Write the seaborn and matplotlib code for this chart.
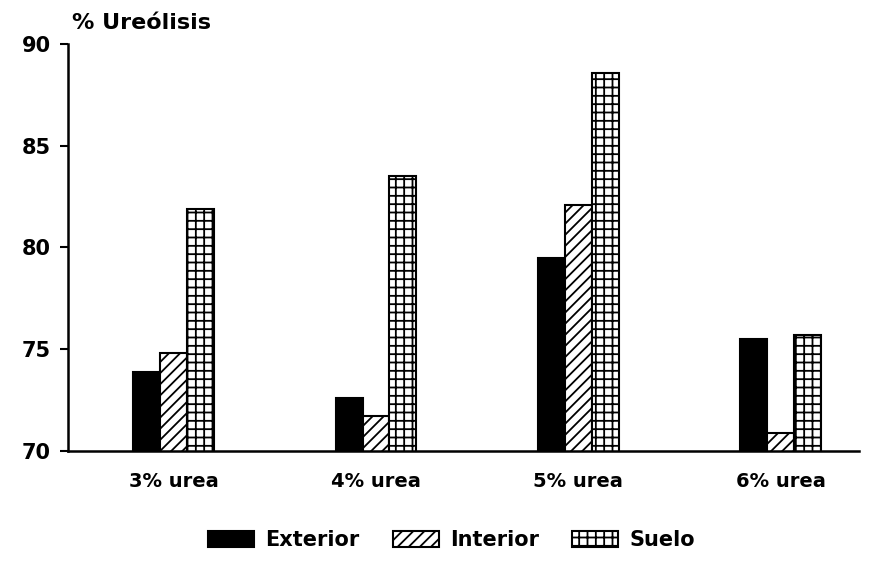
import pandas as pd
import matplotlib
matplotlib.use("Agg")
import matplotlib.pyplot as plt
import seaborn as sns
from matplotlib.patches import Patch

# Data
categories = ["3% urea", "4% urea", "5% urea", "6% urea"]
series = ["Exterior", "Interior", "Suelo"]
exterior = [73.9, 72.6, 79.5, 75.5]
interior = [74.8, 71.7, 82.1, 70.9]
suelo = [81.9, 83.5, 88.6, 75.7]
yticks = [70, 75, 80, 85, 90]

df = pd.DataFrame({
    "dosis": categories * 3,
    "zona": [s for s in series for _ in categories],
    "ureolisis": exterior + interior + suelo,
})

sns.set_style("white")
plt.rcParams["font.family"] = ["DejaVu Sans"]
plt.rcParams["font.weight"] = "bold"
plt.rcParams["text.color"] = "black"
plt.rcParams["xtick.color"] = "black"
plt.rcParams["ytick.color"] = "black"
plt.rcParams["hatch.linewidth"] = 1.3
plt.rcParams["hatch.color"] = "black"

fig = plt.figure(figsize=(8.77, 5.65), dpi=100)
ax = fig.add_axes([0.077, 0.202, 0.903, 0.72])

sns.barplot(data=df, x="dosis", y="ureolisis", hue="zona", order=categories,
            hue_order=series, palette=["black", "white", "white"], width=0.4,
            edgecolor="black", linewidth=1.5, legend=False, ax=ax)

hatches = ["", "///", "++"]
for cont, h in zip(ax.containers, hatches):
    for bar in cont:
        bar.set_hatch(h)

ax.set_ylim(70, 90)
ax.set_xlim(-0.525, 3.39)
ax.set_yticks(yticks)
ax.set_yticklabels([str(t) for t in yticks], fontsize=15, fontweight="bold")
ax.tick_params(axis="y", left=True, length=6, width=1.5, pad=6)
ax.tick_params(axis="x", bottom=False, labelsize=14, pad=12)
for lbl in ax.get_xticklabels():
    lbl.set_fontweight("bold")
ax.set_xlabel("")
ax.set_ylabel("")
ax.spines["top"].set_visible(False)
ax.spines["right"].set_visible(False)
for side in ["left", "bottom"]:
    ax.spines[side].set_linewidth(1.8)
    ax.spines[side].set_color("black")

fig.text(0.082, 0.96, "% Ureólisis", fontsize=16, fontweight="bold", ha="left", va="center")

handles = [Patch(facecolor=fc, edgecolor="black", hatch=h, linewidth=1.5)
           for fc, h in zip(["black", "white", "white"], hatches)]
fig.legend(handles, series, loc="center", bbox_to_anchor=(0.515, 0.044), ncol=3,
           frameon=False, handlelength=2.2, handleheight=0.8, handletextpad=0.55,
           columnspacing=1.6, prop={"size": 15, "weight": "bold"})

fig.savefig("out.png", dpi=100)
